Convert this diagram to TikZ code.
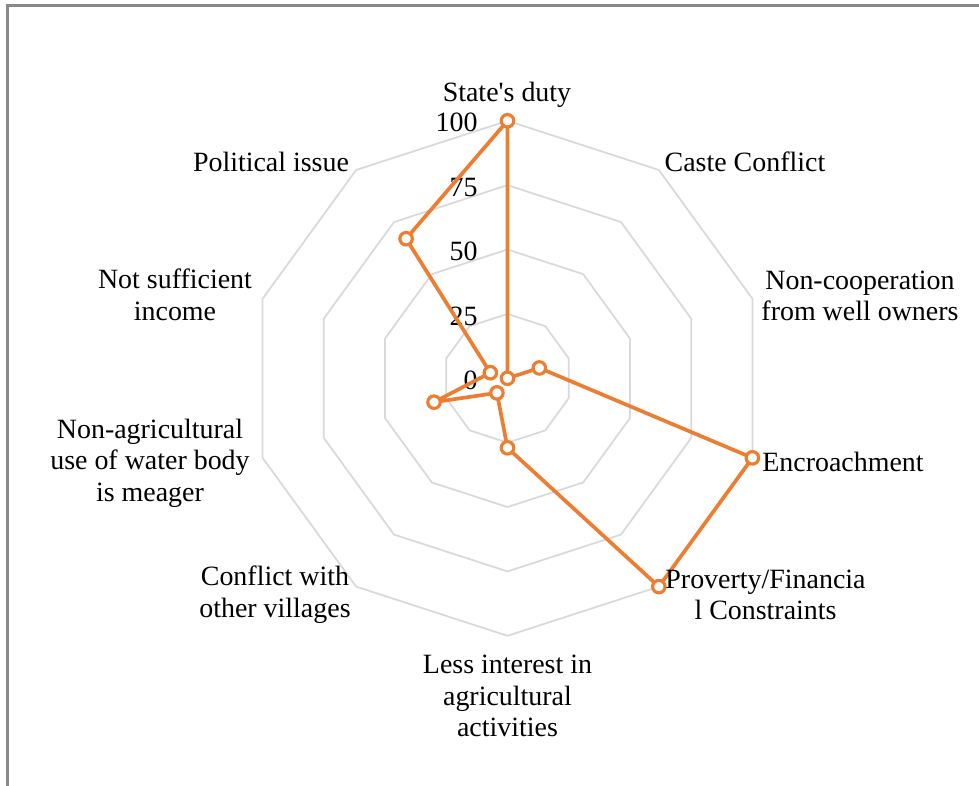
\documentclass[tikz,border=0pt]{standalone}
\usepackage{fontspec}
\setmainfont{Liberation Serif}
\usetikzlibrary{positioning,calc}
\definecolor{serie}{RGB}{237,125,49}
\definecolor{rejilla}{RGB}{217,217,217}
\definecolor{marco}{RGB}{137,137,137}

\begin{document}
\begin{tikzpicture}
	[x=0.02cm,y=0.02cm,
	nn/.style={circle,draw=serie,fill=white,line width=1.8pt,inner sep=0pt,minimum size=0.25cm},
	lbl/.style={align=center,inner sep=0pt},
	tck/.style={anchor=east,inner sep=0pt},
	font=\fontsize{15.9}{17.9}\selectfont]
	\useasboundingbox (-507.5,-407.7) rectangle (471.5,378.3);
	%%%%% FRAME
	\draw[marco,line width=1.5pt] (-500,-407.7) -- (-500,372.8) -- (471.5,372.8);
	%%%%% GRID
	\foreach \r in {1,...,4}
	{
	\draw[rejilla,line width=1pt] (90:{\r*64.375}) \foreach \k in {1,...,9} { -- ({90-36*\k}:{\r*64.375}) } -- cycle;
	};
	%%%%% TICKS
	\foreach \v[count=\r from 0] in {0,25,50,75,100}
	{
	\node[tck] (tick\v) at (-29.5,{\r*64.375-2}) {\v};
	};
	%%%%% DATA
	\foreach \v[count=\i from 0] in {100,0,13,100,100,27,7,30,7,67}
	{
	\coordinate (p\i) at ({90-36*\i}:{\v*2.575});
	};
	\draw[serie,line width=2.1pt,line join=round] (p0) -- (p1) -- (p2) -- (p3) -- (p4) -- (p5) -- (p6) -- (p7) -- (p8) -- (p9) -- cycle;
	\foreach \i in {0,...,9}
	{
	\node[nn] (m\i) at (p\i) {};
	};
	%%%%% LABELS
	\node[lbl] (duty) at (-0.5,283.3) {State\textquotesingle s duty};
	\node[lbl] (caste) at (237.5,216.3) {Caste Conflict};
	\node[lbl] (coop) at (352.5,82.3) {Non-cooperation\\from well owners};
	\node[lbl,anchor=west] (encr) at (254.5,-83.7) {Encroachment};
	\node[lbl] (pov) at (258,-216.7) {Proverty/Financia\\l Constraints};
	\node[lbl] (less) at (0,-317.7) {Less interest in\\agricultural\\activities};
	\node[lbl] (vill) at (-232.5,-216.2) {Conflict with\\other villages};
	\node[lbl] (nonag) at (-357.5,-84.7) {Non-agricultural\\use of water body\\is meager};
	\node[lbl] (income) at (-332.5,83.3) {Not sufficient\\income};
	\node[lbl] (pol) at (-236.5,216.3) {Political issue};
\end{tikzpicture}
\end{document}
